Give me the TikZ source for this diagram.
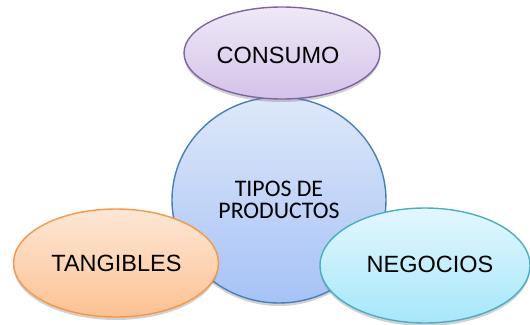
\documentclass[tikz,border=0pt]{standalone}
\usepackage{fontspec}
\setmainfont{Liberation Sans}
\newfontfamily\carlito{Carlito}
\usetikzlibrary{shapes.geometric,shadows}
\definecolor{purpleline}{HTML}{8064A2}
\definecolor{purpletop}{HTML}{EFE9F7}
\definecolor{purplebot}{HTML}{D4C2E9}
\definecolor{blueline}{HTML}{4A7EBB}
\definecolor{bluetop}{HTML}{DEE8F9}
\definecolor{bluebot}{HTML}{A6C2F6}
\definecolor{orangeline}{HTML}{F79646}
\definecolor{orangetop}{HTML}{FEE7D6}
\definecolor{orangebot}{HTML}{FCC293}
\definecolor{cyanline}{HTML}{4BACC6}
\definecolor{cyantop}{HTML}{E3F7FE}
\definecolor{cyanbot}{HTML}{A6E7FA}
\tikzset{
  bubble/.style={ellipse, inner sep=0pt, line width=1.4pt,
    drop shadow={shadow xshift=0pt, shadow yshift=-3pt, opacity=0.3, fill=black!60}},
  outertext/.style={font=\fontsize{23.5}{26}\selectfont},
}
\begin{document}
\begin{tikzpicture}[x=1pt,y=-1pt]
\useasboundingbox (0,0) rectangle (530,324);
\node[bubble, draw=blueline, top color=bluetop, bottom color=bluebot,
      minimum width=214pt, minimum height=206pt,
      align=center, font=\carlito\fontsize{23.8}{22.5}\selectfont] (center) at (279,200)
      {TIPOS DE\\PRODUCTOS};
\node[bubble, draw=purpleline, top color=purpletop, bottom color=purplebot,
      minimum width=196pt, minimum height=92pt, outertext] (consumo) at (282,53) {};
\node[outertext] (consumotext) at (278,55) {CONSUMO};
\node[bubble, draw=orangeline, top color=orangetop, bottom color=orangebot,
      minimum width=205pt, minimum height=108pt] (tangibles) at (116,263) {};
\node[outertext] (tangiblestext) at (116.5,263.5) {TANGIBLES};
\node[bubble, draw=cyanline, top color=cyantop, bottom color=cyanbot,
      minimum width=210pt, minimum height=115pt] (negocios) at (425,265.5) {};
\node[outertext] (negociostext) at (430,264.5) {NEGOCIOS};
\end{tikzpicture}
\end{document}
